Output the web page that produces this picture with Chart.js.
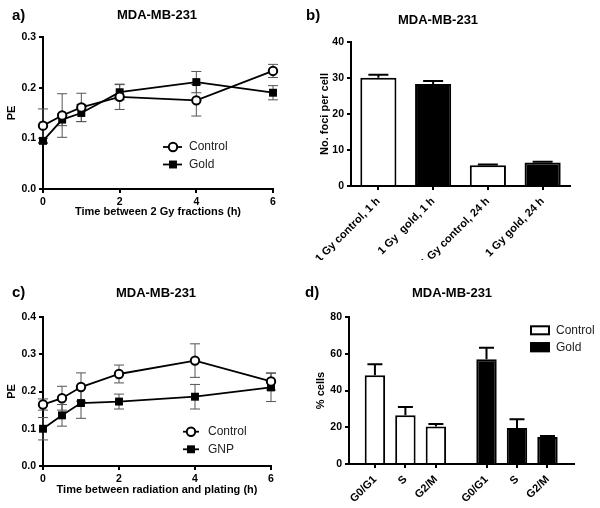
<!DOCTYPE html>
<html>
<head>
<meta charset="utf-8">
<script src="https://cdn.jsdelivr.net/npm/chart.js@4.4.0/dist/chart.umd.min.js"></script>
<style>
html, body { margin: 0; padding: 0; background: #fff; }
#wrap { position: relative; width: 600px; height: 508px; }
canvas { position: absolute; }
</style>
</head>
<body>
<div id="wrap">
  <canvas id="ca" width="300" height="260" style="left:0;top:0"></canvas>
  <canvas id="cb" width="300" height="260" style="left:300px;top:0"></canvas>
  <canvas id="cc" width="300" height="248" style="left:0;top:260px"></canvas>
  <canvas id="cd" width="300" height="248" style="left:300px;top:260px"></canvas>
</div>
<script>
// panel a: PE vs time between 2 Gy fractions
var timeA = [0, 0.5, 1, 2, 4, 6];
var controlA = [0.125, 0.145, 0.161, 0.182, 0.175, 0.233];
var controlAErr = [0.033, 0.043, 0.028, 0.025, 0.031, 0.013];
var goldA = [0.095, 0.137, 0.150, 0.191, 0.211, 0.190];
var goldAErr = [0.005, 0.012, 0.017, 0.015, 0.021, 0.014];

// panel b: foci per cell
var fociLabels = ['1 Gy control, 1 h', '1 Gy  gold, 1 h', '1 Gy control, 24 h', '1 Gy gold, 24 h'];
var fociValues = [30.1, 28.3, 5.75, 6.5];
var fociErr = [0.8, 0.9, 0.25, 0.25];

// panel c: PE vs time between radiation and plating
var timeC = [0, 0.5, 1, 2, 4, 6];
var controlC = [0.165, 0.182, 0.212, 0.247, 0.283, 0.227];
var controlCErr = [0.015, 0.032, 0.038, 0.024, 0.045, 0.023];
var gnpC = [0.100, 0.136, 0.169, 0.173, 0.186, 0.211];
var gnpCErr = [0.030, 0.029, 0.041, 0.020, 0.033, 0.038];

// panel d: cell cycle
var phases = ['G0/G1', 'S', 'G2/M'];
var cellGroups = ['Control', 'Gold'];
var controlD = [48.3, 26.5, 20.4];
var controlDErr = [6.0, 4.5, 1.4];
var goldD = [57.0, 19.6, 14.7];
var goldDErr = [6.2, 4.7, 0.5];

var FONT = '"Liberation Sans", Arial, sans-serif';
var groupGap = 3.66;   // spacing of the second bar group in panel d (in bar slots)

function toXY(xs, ys) {
  return xs.map(function (x, i) { return { x: x, y: ys[i] }; });
}

function drawErrors(chart, o) {
  var ctx = chart.ctx, ys = chart.scales.y;
  ctx.save();
  ctx.strokeStyle = o.color;
  ctx.lineWidth = o.width;
  chart.data.datasets.forEach(function (ds, i) {
    var meta = chart.getDatasetMeta(i);
    meta.data.forEach(function (el, j) {
      var v = meta.controller.getParsed(j).y;
      var e = ds.errors[j];
      var top = ys.getPixelForValue(v + e);
      var bot = o.upOnly ? el.y : ys.getPixelForValue(v - e);
      ctx.beginPath();
      ctx.moveTo(el.x, top); ctx.lineTo(el.x, bot);
      ctx.moveTo(el.x - o.cap, top); ctx.lineTo(el.x + o.cap, top);
      if (!o.upOnly) { ctx.moveTo(el.x - o.cap, bot); ctx.lineTo(el.x + o.cap, bot); }
      ctx.stroke();
    });
  });
  ctx.restore();
}

var errorBars = {
  id: 'errorBars',
  beforeDatasetsDraw: function (chart, args, o) { if (o.below) drawErrors(chart, o); },
  afterDatasetsDraw: function (chart, args, o) { if (!o.below) drawErrors(chart, o); }
};

var decor = {
  id: 'decor',
  afterDraw: function (chart, args, o) {
    var ctx = chart.ctx;
    ctx.save();
    ctx.fillStyle = '#000';
    ctx.textBaseline = 'middle';
    ctx.textAlign = 'left';
    ctx.font = 'bold 15px ' + FONT;
    ctx.fillText(o.letter, o.letterX, o.letterY);
    ctx.textAlign = 'center';
    ctx.font = 'bold 13px ' + FONT;
    ctx.fillText(o.title, o.titleX, o.titleY);

    ctx.textAlign = 'left';
    ctx.font = '12px ' + FONT;
    if (o.legend === 'line') {
      chart.data.datasets.forEach(function (ds, i) {
        var y = o.legendY[i];
        ctx.strokeStyle = '#000';
        ctx.lineWidth = 1.8;
        ctx.beginPath(); ctx.moveTo(o.lineX1, y); ctx.lineTo(o.lineX2, y); ctx.stroke();
        ctx.lineWidth = 2;
        ctx.fillStyle = ds.pointBackgroundColor;
        if (ds.pointStyle === 'circle') {
          ctx.beginPath(); ctx.arc(o.markX, y, ds.pointRadius, 0, Math.PI * 2);
          ctx.fill(); ctx.stroke();
        } else {
          var h = ds.pointRadius * Math.SQRT1_2;
          ctx.fillRect(o.markX - h, y - h, 2 * h, 2 * h);
        }
        ctx.fillStyle = '#222';
        ctx.fillText(ds.label, o.textX, y);
      });
    } else if (o.legend === 'box') {
      cellGroups.forEach(function (g, i) {
        var y = o.legendY[i];
        ctx.fillStyle = i === 0 ? '#fff' : '#000';
        ctx.fillRect(o.boxX, y - 5, 20, 10);
        ctx.strokeStyle = '#000';
        ctx.lineWidth = 2;
        ctx.strokeRect(o.boxX + 1, y - 4, 18, 8);
        ctx.fillStyle = '#222';
        ctx.fillText(g, o.textX, y);
      });
    }
    ctx.restore();
  }
};

function axisStyle(extra) {
  var s = {
    border: { color: '#000', width: 2 },
    grid: { drawOnChartArea: false, drawTicks: true, tickLength: 4, color: '#000', lineWidth: 2, offset: false },
    ticks: { color: '#000', padding: 3, font: { family: FONT, weight: 'bold', size: 10.5 } }
  };
  for (var k in extra) {
    if (typeof extra[k] === 'object' && s[k] && !Array.isArray(extra[k])) {
      for (var kk in extra[k]) s[k][kk] = extra[k][kk];
    } else {
      s[k] = extra[k];
    }
  }
  return s;
}

function titleOpt(text, pad) {
  return { display: true, text: text, color: '#000', padding: pad, font: { family: FONT, weight: 'bold', size: 11 } };
}

function lineDataset(label, xs, ys, errs, style) {
  return {
    label: label,
    data: toXY(xs, ys),
    errors: errs,
    borderColor: '#000',
    borderWidth: 1.8,
    pointStyle: style,
    pointRadius: style === 'circle' ? 4.2 : 5.6,
    pointBorderWidth: style === 'circle' ? 2 : 0,
    pointBorderColor: '#000',
    pointBackgroundColor: style === 'circle' ? '#fff' : '#000',
    clip: false
  };
}

var baseOpts = { responsive: false, animation: false, events: [] };

// ---- panel a
new Chart(document.getElementById('ca'), {
  type: 'line',
  data: {
    datasets: [
      lineDataset('Control', timeA, controlA, controlAErr, 'circle'),
      lineDataset('Gold', timeA, goldA, goldAErr, 'rect')
    ]
  },
  options: Object.assign({}, baseOpts, {
    layout: { padding: { left: 0, top: 37, right: 27, bottom: 0 } },
    plugins: {
      legend: { display: false }, tooltip: { enabled: false },
      errorBars: { color: '#555', width: 1, cap: 5, upOnly: false, below: true },
      decor: { letter: 'a)', letterX: 12, letterY: 16, title: 'MDA-MB-231', titleX: 157, titleY: 15,
               legend: 'line', legendY: [147, 164.5], lineX1: 163, lineX2: 182, markX: 173, textX: 189 }
    },
    scales: {
      x: axisStyle({ type: 'linear', min: 0, max: 6,
        ticks: { stepSize: 2 },
        title: titleOpt('Time between 2 Gy fractions (h)', { top: 0, bottom: 41 }),
        afterFit: function (s) { s.height = 71; } }),
      y: axisStyle({ min: 0, max: 0.3,
        ticks: { stepSize: 0.1, callback: function (v) { return v.toFixed(1); } },
        title: titleOpt('PE', { top: 5.5, bottom: 0 }),
        afterFit: function (s) { s.width = 43; } })
    }
  }),
  plugins: [errorBars, decor]
});

// ---- panel b
new Chart(document.getElementById('cb'), {
  type: 'bar',
  data: {
    labels: fociLabels,
    datasets: [{
      label: 'No. foci per cell',
      data: fociValues,
      errors: fociErr,
      backgroundColor: ['#fff', '#000', '#fff', '#000'],
      borderColor: '#000',
      borderWidth: 2,
      barPercentage: 0.66,
      categoryPercentage: 1
    }]
  },
  options: Object.assign({}, baseOpts, {
    layout: { padding: { left: 0, top: 42, right: 30, bottom: 0 } },
    plugins: {
      legend: { display: false }, tooltip: { enabled: false },
      errorBars: { color: '#000', width: 2, cap: 10, upOnly: true, below: false },
      decor: { letter: 'b)', letterX: 6, letterY: 16, title: 'MDA-MB-231', titleX: 138, titleY: 20, legend: 'none' }
    },
    scales: {
      x: axisStyle({
        ticks: { autoSkip: false, minRotation: 45, maxRotation: 45, padding: 5,
                 font: { family: FONT, weight: 'bold', size: 11 } },
        afterFit: function (s) { s.height = 74; } }),
      y: axisStyle({ min: 0, max: 40,
        ticks: { stepSize: 10 },
        title: titleOpt('No. foci per cell', { top: 18, bottom: 0 }),
        afterFit: function (s) { s.width = 51; } })
    }
  }),
  plugins: [errorBars, decor]
});

// ---- panel c
new Chart(document.getElementById('cc'), {
  type: 'line',
  data: {
    datasets: [
      lineDataset('Control', timeC, controlC, controlCErr, 'circle'),
      lineDataset('GNP', timeC, gnpC, gnpCErr, 'rect')
    ]
  },
  options: Object.assign({}, baseOpts, {
    layout: { padding: { left: 0, top: 57, right: 29, bottom: 0 } },
    plugins: {
      legend: { display: false }, tooltip: { enabled: false },
      errorBars: { color: '#555', width: 1, cap: 5, upOnly: false, below: true },
      decor: { letter: 'c)', letterX: 12, letterY: 33, title: 'MDA-MB-231', titleX: 156, titleY: 33,
               legend: 'line', legendY: [171.7, 189.3], lineX1: 183, lineX2: 199, markX: 191, textX: 208 }
    },
    scales: {
      x: axisStyle({ type: 'linear', min: 0, max: 6,
        ticks: { stepSize: 2 },
        title: titleOpt('Time between radiation and plating (h)', { top: 0, bottom: 11 }),
        afterFit: function (s) { s.height = 42; } }),
      y: axisStyle({ min: 0, max: 0.4,
        ticks: { stepSize: 0.1, callback: function (v) { return v.toFixed(1); } },
        title: titleOpt('PE', { top: 5.5, bottom: 0 }),
        afterFit: function (s) { s.width = 43; } })
    }
  }),
  plugins: [errorBars, decor]
});

// ---- panel d
var dLabels = [], dPos = [], dValues = [], dErr = [], dColors = [];
[controlD, goldD].forEach(function (vals, g) {
  phases.forEach(function (p, i) {
    dLabels.push(p);
    dPos.push(g * groupGap + i);
    dValues.push(vals[i]);
    dErr.push((g === 0 ? controlDErr : goldDErr)[i]);
    dColors.push(g === 0 ? '#fff' : '#000');
  });
});

new Chart(document.getElementById('cd'), {
  type: 'bar',
  data: {
    datasets: [{
      label: '% cells',
      data: toXY(dPos, dValues),
      errors: dErr,
      backgroundColor: dColors,
      borderColor: '#000',
      borderWidth: 2,
      barPercentage: 0.67,
      categoryPercentage: 1
    }]
  },
  options: Object.assign({}, baseOpts, {
    layout: { padding: { left: 0, top: 57, right: 26, bottom: 0 } },
    plugins: {
      legend: { display: false }, tooltip: { enabled: false },
      errorBars: { color: '#000', width: 2, cap: 7.5, upOnly: true, below: false },
      decor: { letter: 'd)', letterX: 5, letterY: 33, title: 'MDA-MB-231', titleX: 152, titleY: 33,
               legend: 'box', legendY: [70.3, 87.2], boxX: 230, textX: 256 }
    },
    scales: {
      x: axisStyle({ type: 'linear', offset: false, min: -0.85, max: dPos[dPos.length - 1] + 0.87,
        afterBuildTicks: function (s) { s.ticks = dPos.map(function (v) { return { value: v }; }); },
        ticks: { autoSkip: false, minRotation: 45, maxRotation: 45, padding: 5,
                 font: { family: FONT, weight: 'bold', size: 11 },
                 callback: function (v, i) { return dLabels[i]; } },
        afterFit: function (s) { s.height = 44; } }),
      y: axisStyle({ min: 0, max: 80,
        ticks: { stepSize: 20 },
        title: titleOpt('% cells', { top: 14, bottom: 0 }),
        afterFit: function (s) { s.width = 49; } })
    }
  }),
  plugins: [errorBars, decor]
});
</script>
</body>
</html>
